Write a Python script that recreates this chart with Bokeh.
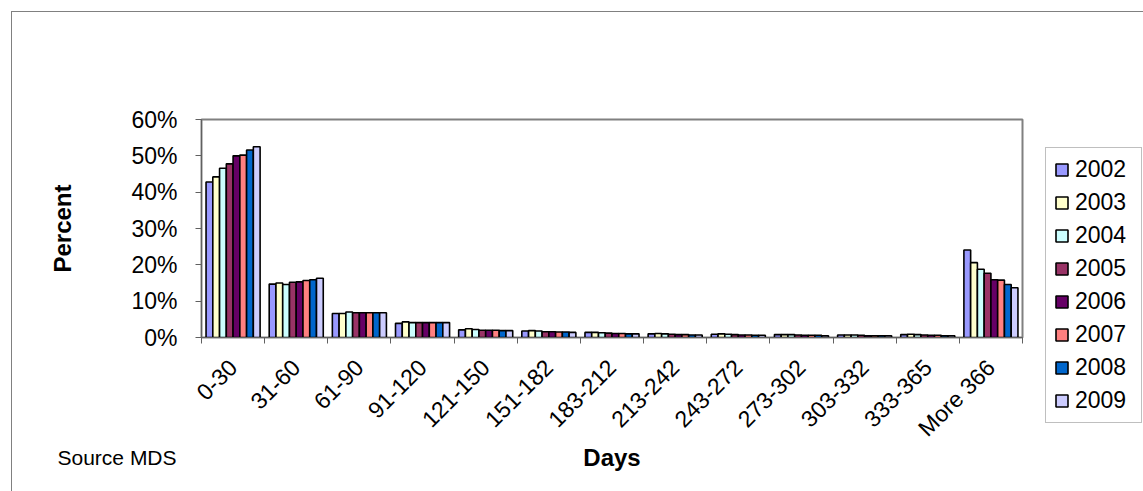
import math
from bokeh.plotting import figure
from bokeh.models import (Range1d, FixedTicker, NumeralTickFormatter, Legend, LegendItem,
                          Label, ColumnDataSource)
from bokeh.transform import dodge
from bokeh.embed import file_html
from bokeh.resources import INLINE

categories = ["0-30", "31-60", "61-90", "91-120", "121-150", "151-182", "183-212",
              "213-242", "243-272", "273-302", "303-332", "333-365", "More 366"]
years = ["2002", "2003", "2004", "2005", "2006", "2007", "2008", "2009"]

# percent values per year, one value per category
y2002 = [42.8, 14.7, 6.6, 3.9, 2.1, 1.8, 1.4, 1.0, 0.9, 0.8, 0.7, 0.8, 24.1]
y2003 = [44.2, 15.0, 6.6, 4.3, 2.4, 1.9, 1.4, 1.1, 1.0, 0.8, 0.7, 0.9, 20.6]
y2004 = [46.6, 14.6, 7.0, 4.1, 2.2, 1.8, 1.3, 1.0, 0.9, 0.8, 0.7, 0.8, 18.8]
y2005 = [47.8, 15.2, 6.8, 4.1, 2.0, 1.6, 1.2, 0.9, 0.8, 0.7, 0.6, 0.7, 17.7]
y2006 = [50.0, 15.3, 6.8, 4.1, 2.0, 1.6, 1.1, 0.8, 0.7, 0.6, 0.5, 0.6, 15.9]
y2007 = [50.2, 15.7, 6.8, 4.1, 2.0, 1.5, 1.1, 0.8, 0.7, 0.6, 0.5, 0.6, 15.8]
y2008 = [51.6, 15.9, 6.8, 4.1, 1.9, 1.5, 1.0, 0.7, 0.6, 0.6, 0.5, 0.5, 14.6]
y2009 = [52.5, 16.3, 6.8, 4.1, 1.9, 1.4, 1.0, 0.7, 0.6, 0.5, 0.5, 0.5, 13.7]
series = [y2002, y2003, y2004, y2005, y2006, y2007, y2008, y2009]
colors = ["#9999FF", "#FFFFCC", "#CCFFFF", "#993366", "#660066", "#FF8080", "#0066CC", "#CCCCFF"]
y_ticks = [0.0, 0.1, 0.2, 0.3, 0.4, 0.5, 0.6]

data = {"xc": [i + 0.5 for i in range(len(categories))]}
for yr, vals in zip(years, series):
    data[yr] = [v / 100.0 for v in vals]
source = ColumnDataSource(data)

FONT = "Liberation Sans"

p = figure(frame_width=821, frame_height=218,
           min_border_left=189, min_border_top=107, min_border_right=0, min_border_bottom=154,
           x_range=Range1d(0, 13), y_range=Range1d(0, 0.6),
           output_backend="svg", toolbar_location=None)
p.styles = {"margin-left": "11px", "margin-top": "11px",
            "border-left": "1px solid #808080", "border-top": "1px solid #808080"}
p.background_fill_color = "white"
p.border_fill_color = "white"
p.outline_line_color = "#808080"
p.outline_line_width = 2
p.xgrid.visible = False
p.ygrid.visible = False

bw = 0.107
renderers = []
for j, (yr, col) in enumerate(zip(years, colors)):
    r = p.vbar(x=dodge("xc", (j - 3.5) * bw, range=p.x_range), top=yr, width=bw,
               source=source, fill_color=col, line_color="black", line_width=1.6)
    renderers.append(r)

xa = p.xaxis[0]
xa.ticker = FixedTicker(ticks=[i + 0.5 for i in range(len(categories))],
                        minor_ticks=list(range(len(categories) + 1)))
xa.major_label_overrides = {i + 0.5: c for i, c in enumerate(categories)}
xa.major_tick_out = 0
xa.major_tick_in = 0
xa.minor_tick_out = 6
xa.minor_tick_in = 0
xa.minor_tick_line_color = "#606060"
xa.axis_line_color = "#606060"
xa.major_label_orientation = math.pi / 4
xa.major_label_standoff = 20
xa.major_label_text_font = FONT
xa.major_label_text_font_size = "23px"
xa.major_label_text_color = "black"
xa.axis_label = "Days"
xa.axis_label_text_font = FONT
xa.axis_label_text_font_style = "bold"
xa.axis_label_text_font_size = "24px"
xa.axis_label_text_color = "black"
xa.axis_label_standoff = -10

ya = p.yaxis[0]
ya.ticker = FixedTicker(ticks=y_ticks)
ya.formatter = NumeralTickFormatter(format="0%")
ya.major_tick_out = 6
ya.major_tick_in = 0
ya.minor_tick_out = 0
ya.minor_tick_in = 0
ya.major_tick_line_color = "#606060"
ya.axis_line_color = "#606060"
ya.major_label_standoff = 18
ya.major_label_text_font = FONT
ya.major_label_text_font_size = "23px"
ya.major_label_text_color = "black"
ya.axis_label = "Percent"
ya.axis_label_text_font = FONT
ya.axis_label_text_font_style = "bold"
ya.axis_label_text_font_size = "24px"
ya.axis_label_text_color = "black"
ya.axis_label_standoff = 52

legend = Legend(items=[LegendItem(label=yr, renderers=[r]) for yr, r in zip(years, renderers)],
                location=(23, -86))
legend.border_line_color = "#808080"
legend.border_line_width = 1
legend.background_fill_color = "white"
legend.label_text_font = FONT
legend.label_text_font_size = "23px"
legend.label_text_color = "black"
legend.glyph_width = 15
legend.glyph_height = 15
legend.label_height = 20
legend.label_width = 58
legend.label_standoff = 6
legend.spacing = 6
legend.padding = 8
legend.margin = 0
p.add_layout(legend, "right")

src_label = Label(x=-2.28, y=-0.33, text="Source MDS", text_font=FONT, text_font_size="21px",
                  text_baseline="middle", text_align="left", text_color="black")
p.add_layout(src_label, "below")

open("out.html", "w").write(file_html(p, INLINE))
